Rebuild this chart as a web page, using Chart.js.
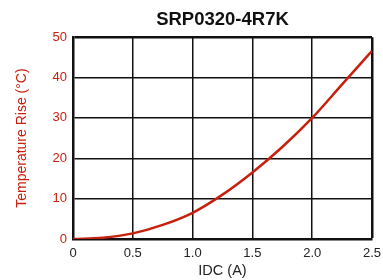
<!DOCTYPE html>
<html>
<head>
<meta charset="UTF-8">
<script src="https://cdn.jsdelivr.net/npm/chart.js"></script>
<style>
  html, body { margin: 0; padding: 0; background: #fff; }
  #wrap { width: 383px; height: 280px; }
</style>
</head>
<body>
<div id="wrap"><canvas id="c" width="383" height="280"></canvas></div>
<script>
// current (A) and temperature rise (°C)
const currentA = [0, 0.25, 0.5, 0.75, 1.0, 1.25, 1.5, 1.75, 2.0, 2.25, 2.5];
const tempRise = [0, 0.3, 1.4, 3.5, 6.5, 11, 16.5, 22.8, 30, 38.3, 46.6];
const xTicks = [0, 0.5, 1.0, 1.5, 2.0, 2.5];
const yTicks = [0, 10, 20, 30, 40, 50];

const red = '#c8200e';
const fam = "'Liberation Sans', Arial, sans-serif";
const pts = currentA.map((x, i) => ({ x: x, y: tempRise[i] }));

new Chart(document.getElementById('c'), {
  type: 'line',
  data: {
    datasets: [{
      data: pts,
      borderColor: red,
      borderWidth: 2.5,
      pointRadius: 0,
      fill: false,
      cubicInterpolationMode: 'monotone'
    }]
  },
  options: {
    responsive: false,
    animation: false,
    layout: { padding: { top: 9, right: 11, left: 0, bottom: 0 } },
    plugins: {
      legend: { display: false },
      tooltip: { enabled: false },
      title: {
        display: true,
        text: 'SRP0320-4R7K',
        fullSize: false,
        color: '#111',
        font: { family: fam, size: 18.5, weight: 'bold' },
        padding: { top: 0, bottom: 6 }
      }
    },
    scales: {
      x: {
        type: 'linear',
        min: 0, max: 2.5,
        afterBuildTicks: s => { s.ticks = xTicks.map(v => ({ value: v })); },
        afterFit: s => { s.height = 41; s.paddingLeft = 0; s.paddingRight = 0; },
        grid: {
          color: '#111',
          lineWidth: c => (c.tick && c.tick.value === 2.5) ? 2.5 : 1.5,
          drawTicks: false
        },
        border: { color: '#111', width: 2.5 },
        ticks: {
          color: '#222',
          padding: 7,
          font: { family: fam, size: 13 },
          callback: v => v === 0 ? '0' : v.toFixed(1)
        },
        title: {
          display: true,
          text: 'IDC (A)',
          color: '#222',
          padding: { top: 0, bottom: 0 },
          font: { family: fam, size: 14.5 }
        }
      },
      y: {
        min: 0, max: 50,
        afterBuildTicks: s => { s.ticks = yTicks.map(v => ({ value: v })); },
        afterFit: s => { s.width = 73; s.paddingTop = 0; s.paddingBottom = 0; },
        grid: {
          color: '#111',
          lineWidth: c => (c.tick && c.tick.value === 50) ? 2.5 : 1.5,
          drawTicks: false
        },
        border: { color: '#111', width: 2.5 },
        ticks: {
          color: red,
          padding: 6,
          font: { family: fam, size: 13 }
        },
        title: {
          display: true,
          text: 'Temperature Rise (°C)',
          color: red,
          padding: { top: 14, bottom: 0 },
          font: { family: fam, size: 14 }
        }
      }
    }
  }
});
</script>
</body>
</html>
